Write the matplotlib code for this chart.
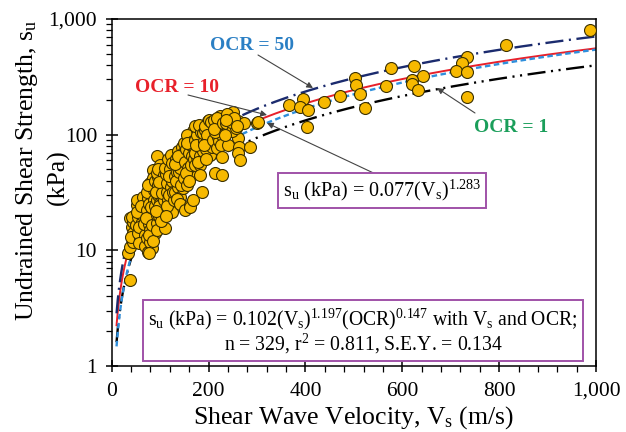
import numpy as np
import matplotlib
matplotlib.use("Agg")
import matplotlib.pyplot as plt
from matplotlib.ticker import FixedLocator, FuncFormatter, LogLocator, NullFormatter

plt.rcParams['font.family'] = ['Liberation Serif', 'DejaVu Serif']
plt.rcParams['mathtext.fontset'] = 'custom'
plt.rcParams['mathtext.rm'] = 'Liberation Serif'
plt.rcParams['lines.scale_dashes'] = False

vs = [
    38, 34, 38, 45, 41, 48, 38, 45, 44, 40, 47, 42, 50,
    52, 55, 58, 52, 62, 65, 62, 58, 66, 68, 55, 60, 64, 57, 69, 52, 67, 61, 56, 68,
    72, 75.6, 82.6, 79, 72, 75.6, 82.6, 86, 79, 82.6, 89, 86, 73, 78, 84, 88, 76, 80,
    85, 71, 87, 74, 81, 77, 89, 83, 86, 78, 90,
    93, 93, 93, 93, 96, 96, 99.7, 99.7, 99.7, 106.5, 106.5, 103, 110, 93, 95, 98, 101,
    104, 108, 92, 97, 102, 105, 109, 94, 100, 107, 91, 103, 96, 108, 98,
    113.5, 117, 120, 124, 127, 115, 112, 118, 122, 126, 129, 114, 119, 125, 111, 128,
    116, 121, 123, 127, 112, 118, 130, 124,
    130.7, 134, 137.5, 141, 141, 148, 148, 133, 136, 139, 143, 146, 132, 145, 138, 149,
    135, 142, 147, 131, 144, 150, 136, 140, 149,
    151, 155, 161.7, 161.7, 161.7, 161.7, 168.5, 168.5, 168.5, 152, 154, 157, 160, 163,
    165, 158, 166, 153, 169, 156, 164, 159, 167, 170, 155,
    173, 175.5, 179, 182, 182, 182, 186, 186, 173, 176, 180, 184, 188, 171, 177, 183,
    187, 172, 185, 178, 189, 174, 181, 190,
    196, 199.5, 189, 203, 203, 210, 192, 195, 198, 201, 205, 207, 193, 197, 208, 200,
    194, 206, 191, 209,
    213, 217, 227, 227, 230, 230, 230, 223, 215, 219, 225, 212, 221, 228, 214, 224,
    218, 226, 211, 229,
    241, 244, 251, 261, 261, 263, 261, 265, 274, 241, 236, 248, 256, 233, 238, 246,
    253, 258, 235, 285.6, 299, 303,
    988, 814, 733, 723, 710, 733, 734, 643, 624, 577, 620, 620, 633, 566, 502, 504,
    513, 471, 439, 522, 394, 367, 389, 405, 403,
]
su = [
    5.5, 9.4, 10.7, 11.9, 16, 18.3, 18.9, 17.5, 14, 13, 20, 19.5, 16.5,
    24.7, 19.5, 22.3, 27, 15, 18.3, 17.7, 12.5, 21, 26, 14, 20.5, 29, 16, 13.5, 21.5, 17, 24, 11.5, 11,
    12.7, 9.7, 10.4, 11.9, 22.3, 28.2, 35.5, 49.5, 38, 30.1, 14, 18.9, 32, 25, 21, 27, 17, 15,
    42, 19, 33, 37, 23.5, 13.5, 40, 16.5, 12, 9.5, 24,
    17.1, 20.2, 15, 27.2, 30.1, 43.3, 43.3, 34.4, 25.5, 23.8, 36.7, 36.7, 15.5, 65, 37, 20, 48,
    29, 52, 32, 24, 18, 41, 33, 47, 55, 27, 22, 31, 50, 45, 39,
    32.1, 27.2, 42, 21.6, 54.7, 38, 46, 58, 35, 48, 62, 24, 30, 40, 52, 27,
    62, 50, 67, 32, 20, 44, 44, 57,
    32.1, 47.9, 35.5, 39.2, 29.1, 51.2, 34.4, 62, 72, 55, 66, 44, 40, 78, 48, 60,
    28, 52, 70, 56, 37, 84, 65, 25, 42,
    22.3, 36.7, 24.7, 43.3, 60.4, 23.8, 27.2, 108, 47.9, 58, 75, 90, 70, 82,
    95, 52, 66, 47, 78, 100, 55, 40, 88, 62, 85,
    54.7, 64.5, 73.7, 76, 54.7, 44.8, 99, 32.1, 90, 110, 85, 115, 95, 70, 100, 65,
    80, 120, 105, 58, 72, 82, 122, 88,
    90, 121, 103, 66.7, 125, 103, 110, 75, 130, 85, 95, 115, 118, 100, 78, 135,
    62, 128, 82, 90,
    46.3, 76.2, 64.5, 44.8, 117, 143, 138, 110, 120, 95, 130, 135, 88, 100, 105, 145,
    140, 82, 112, 125,
    81.4, 138, 158, 132, 93, 78.7, 69, 60.4, 125, 117, 125, 108, 115, 100, 150, 128,
    140, 120, 135, 77.8, 125, 128,
    803, 596, 467, 419, 357, 346, 213, 321, 395, 379, 297, 272, 243, 264, 311, 269,
    225, 217, 193, 169, 203, 181, 172, 163, 117,
]

# fitted relationships
fit_a, fit_b, fit_c = 0.102, 1.197, 0.147
ocr_values = [1, 10, 50]
simple_a, simple_b = 0.077, 1.283
vs_line = np.linspace(10, 1000, 400)

fig = plt.figure(figsize=(6.26, 4.32), dpi=100)
ax = fig.add_axes([111.7 / 626, 1 - 366 / 432, 484.3 / 626, 347 / 432])

styles = {
    1: dict(color='black', lw=1.7, dashes=(13, 4, 1.5, 4, 1.5, 4)),
    10: dict(color='#e8202a', lw=1.4),
    50: dict(color='#1b2b6e', lw=1.7, dashes=(13, 4, 1.5, 4)),
}
for ocr in ocr_values:
    ax.plot(vs_line, fit_a * vs_line ** fit_b * ocr ** fit_c, zorder=2, **styles[ocr])
ax.plot(vs_line, simple_a * vs_line ** simple_b, color='#2f8fdc', lw=1.7,
        dashes=(4, 2.5), zorder=2)

# points sit on top of the fitted lines
ax.scatter(vs, su, s=74, color='#f7b900', edgecolor='#3b3000', linewidth=0.8, zorder=3)

ax.set_yscale('log')
ax.set_xlim(0, 1000)
ax.set_ylim(1, 1000)
ax.xaxis.set_major_locator(FixedLocator([0, 200, 400, 600, 800, 1000]))
ax.xaxis.set_minor_locator(FixedLocator(np.arange(0, 1001, 40)))
ax.yaxis.set_major_locator(FixedLocator([1, 10, 100, 1000]))
ax.yaxis.set_minor_locator(LogLocator(base=10, subs=np.arange(2, 10)))
ax.yaxis.set_minor_formatter(NullFormatter())
fmt = FuncFormatter(lambda v, p: f"{v:,.0f}")
ax.xaxis.set_major_formatter(fmt)
ax.yaxis.set_major_formatter(fmt)
ax.tick_params(which='major', direction='inout', length=9, width=1.1, labelsize=15.5, pad=6)
ax.tick_params(which='minor', direction='out', length=4, width=0.9)
ax.tick_params(axis='x', which='major', pad=7)
for sp in ax.spines.values():
    sp.set_linewidth(1.1)

ax.set_xlabel(r'Shear Wave Velocity, V$\mathregular{_s}$ (m/s)', fontsize=18.5, labelpad=2)
# y label: two lines written separately so the short second line stays clear of the ticks
fig.text(27 / 626, 1 - 170 / 432, 'Undrained Shear Strength, s$\\mathregular{_u}$',
         rotation=90, ha='center', va='center', fontsize=18.5)
fig.text(58 / 626, 1 - 177 / 432, '(kPa)',
         rotation=90, ha='center', va='center', fontsize=18.5)

box = dict(boxstyle='square,pad=0.25', facecolor='white', edgecolor='#a052a8', linewidth=1.4)
ax.text(0.558, 0.506, r's$\mathregular{_u}$ (kPa) = 0.077(V$\mathregular{_s}$)$\mathregular{^{1.283}}$',
        transform=ax.transAxes, ha='center', va='center', fontsize=14.5, bbox=box, zorder=5)
ax.text(0.519, 0.101,
        r's$\mathregular{_u}$ (kPa) = 0.102(V$\mathregular{_s}$)$\mathregular{^{1.197}}$(OCR)$\mathregular{^{0.147}}$'
        r' with V$\mathregular{_s}$ and OCR;' '\n'
        r'n = 329, r$\mathregular{^2}$ = 0.811, S.E.Y. = 0.134',
        transform=ax.transAxes, ha='center', va='center', fontsize=14.2,
        multialignment='center', linespacing=1.0, bbox=box, zorder=5)


def px(x, y):
    return (x / 626, 1 - y / 432)


arrow = dict(arrowstyle='-|>', color='#444444', lw=0.8, mutation_scale=9, shrinkA=0, shrinkB=0)
labels = [
    ('OCR = 50', '#2a7fc4', (252, 45), (258, 55), (313, 88)),
    ('OCR = 10', '#e8202a', (177, 87), (188, 95), (267, 115)),
    ('OCR = 1', '#1a9e5a', (511, 128), (475, 113), (437, 88)),
]
for text, col, pos, start, end in labels:
    fig.text(*px(*pos), text, color=col, fontsize=14, fontweight='bold', ha='center', va='center')
    ax.annotate('', xy=px(*end), xycoords='figure fraction', xytext=px(*start),
                textcoords='figure fraction', arrowprops=arrow, zorder=4)
ax.annotate('', xy=px(267, 123), xycoords='figure fraction', xytext=px(382, 177),
            textcoords='figure fraction', arrowprops=arrow, zorder=4)

fig.savefig('out.png', dpi=100)
